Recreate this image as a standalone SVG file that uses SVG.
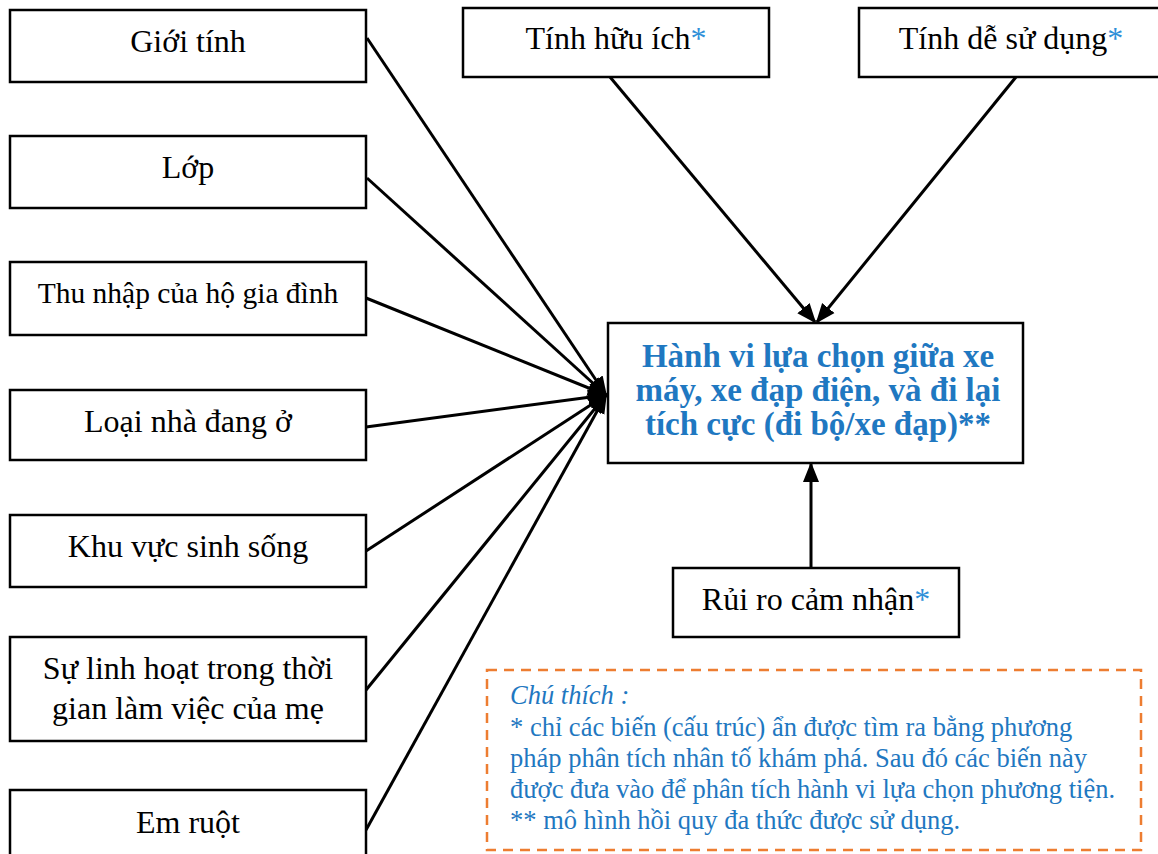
<svg xmlns="http://www.w3.org/2000/svg" width="1158" height="854" viewBox="0 0 1158 854">
<defs>
<style>
.box{fill:#fff;stroke:#000;stroke-width:2.5}
.t{font-family:"Liberation Serif",serif;font-size:32px;fill:#000;text-anchor:middle}
.ast{fill:#2E8FD8}
.main{font-family:"Liberation Serif",serif;font-size:33px;font-weight:bold;fill:#1F78C1;text-anchor:middle}
.note{font-family:"Liberation Serif",serif;font-size:26.5px;fill:#1F78C1}
.c{stroke:#000;stroke-width:3;fill:none}
</style>
<marker id="ah2" markerWidth="20" markerHeight="20" refX="18" refY="10" orient="auto" markerUnits="userSpaceOnUse" viewBox="0 0 20 20">
<path d="M0,2 L20,10 L0,18 z" fill="#000"/>
</marker>
</defs>
<rect width="1158" height="854" fill="#fff"/>
<g id="connectors">
<line class="c" x1="367" y1="38" x2="606" y2="395" marker-end="url(#ah2)"/>
<line class="c" x1="367" y1="178" x2="606" y2="395" marker-end="url(#ah2)"/>
<line class="c" x1="366" y1="298" x2="606" y2="395" marker-end="url(#ah2)"/>
<line class="c" x1="366" y1="427" x2="606" y2="395" marker-end="url(#ah2)"/>
<line class="c" x1="366" y1="551" x2="606" y2="395" marker-end="url(#ah2)"/>
<line class="c" x1="366" y1="690" x2="606" y2="395" marker-end="url(#ah2)"/>
<line class="c" x1="366" y1="830" x2="606" y2="395" marker-end="url(#ah2)"/>
<line class="c" x1="610" y1="77" x2="815" y2="322" marker-end="url(#ah2)"/>
<line class="c" x1="1016" y1="77" x2="817" y2="322" marker-end="url(#ah2)"/>
<line class="c" x1="811" y1="568" x2="811" y2="464" marker-end="url(#ah2)"/>
</g>
<g id="n-gioitinh"><rect class="box" x="10" y="10" width="356" height="72"/><text class="t" x="188" y="52">Giới tính</text></g>
<g id="n-lop"><rect class="box" x="10" y="136" width="356" height="72"/><text class="t" x="188" y="178">Lớp</text></g>
<g id="n-thunhap"><rect class="box" x="10" y="262" width="356" height="73"/><text class="t" x="188" y="303" style="font-size:29.5px">Thu nhập của hộ gia đình</text></g>
<g id="n-loainha"><rect class="box" x="10" y="390" width="356" height="70"/><text class="t" x="188" y="432">Loại nhà đang ở</text></g>
<g id="n-khuvuc"><rect class="box" x="10" y="515" width="356" height="72"/><text class="t" x="188" y="557">Khu vực sinh sống</text></g>
<g id="n-sulinhhoat"><rect class="box" x="10" y="637" width="356" height="104"/><text class="t" x="188" y="679">Sự linh hoạt trong thời</text><text class="t" x="188" y="719">gian làm việc của mẹ</text></g>
<g id="n-emruot"><rect class="box" x="10" y="790" width="356" height="80"/><text class="t" x="188" y="833">Em ruột</text></g>
<g id="n-huuich"><rect class="box" x="463" y="8" width="306" height="69"/><text class="t" x="616" y="49">Tính hữu ích<tspan class="ast">*</tspan></text></g>
<g id="n-desudung"><rect class="box" x="859" y="8" width="310" height="69"/><text class="t" x="1011" y="49">Tính dễ sử dụng<tspan class="ast">*</tspan></text></g>
<g id="n-hanhvi"><rect class="box" x="608" y="323" width="415" height="140"/>
<text class="main" x="818" y="367">Hành vi lựa chọn giữa xe</text>
<text class="main" x="818" y="401">máy, xe đạp điện, và đi lại</text>
<text class="main" x="818" y="435">tích cực (đi bộ/xe đạp)**</text></g>
<g id="n-ruiro"><rect class="box" x="673" y="568" width="286" height="69"/><text class="t" x="816" y="610">Rủi ro cảm nhận<tspan class="ast">*</tspan></text></g>
<g id="legend">
<rect x="487" y="670" width="654" height="180" fill="none" stroke="#ED7D31" stroke-width="2.5" stroke-dasharray="10,7"/>
<text class="note" x="510" y="704" font-style="italic">Chú thích :</text>
<text class="note" x="510" y="736">* chỉ các biến (cấu trúc) ẩn được tìm ra bằng phương</text>
<text class="note" x="510" y="767">pháp phân tích nhân tố khám phá. Sau đó các biến này</text>
<text class="note" x="510" y="798">được đưa vào để phân tích hành vi lựa chọn phương tiện.</text>
<text class="note" x="510" y="829">** mô hình hồi quy đa thức được sử dụng.</text>
</g>
</svg>
